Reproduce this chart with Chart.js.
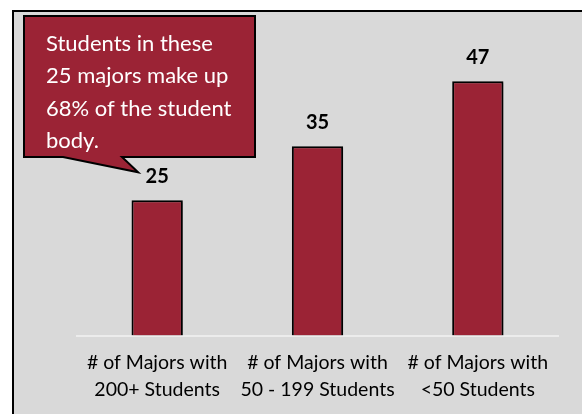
<!DOCTYPE html>
<html>
<head>
<meta charset="utf-8">
<script src="https://cdn.jsdelivr.net/npm/chart.js@4.4.1/dist/chart.umd.min.js"></script>
<style>
  html, body { margin: 0; padding: 0; background: #ffffff; overflow: hidden; }
  #frame {
    position: absolute; left: 12px; top: 10px;
    width: 568px; height: 402px;
    border-left: 2px solid #000; border-top: 2px solid #000;
    background: #d9d9d9;
  }
  #frame canvas { display: block; }
</style>
</head>
<body>
<div id="frame"><canvas id="majorsChart" width="568" height="402"></canvas></div>
<script>
// data
const categories = [
    ['# of Majors with', '200+ Students'],
    ['# of Majors with', '50 - 199 Students'],
    ['# of Majors with', '<50 Students']
];
const majorCounts = [25, 35, 47];
const calloutLines = ['Students in these', '25 majors make up', '68% of the student', 'body.'];

const BAR_RED = '#9b2335';
const FONT = 'Lato, "Open Sans", sans-serif';

// shadow behind the bars
const barShadow = {
    id: 'barShadow',
    beforeDatasetsDraw(chart) {
        const ctx = chart.ctx;
        ctx.save();
        ctx.shadowColor = 'rgba(0,0,0,0.35)';
        ctx.shadowOffsetX = 2;
        ctx.shadowOffsetY = 2;
        ctx.shadowBlur = 3;
    },
    afterDatasetsDraw(chart) {
        chart.ctx.restore();
    }
};

// numbers above each bar
const valueLabels = {
    id: 'valueLabels',
    afterDatasetsDraw(chart) {
        const ctx = chart.ctx;
        const meta = chart.getDatasetMeta(0);
        ctx.save();
        ctx.fillStyle = '#000';
        ctx.font = 'bold 20px ' + FONT;
        ctx.textAlign = 'center';
        ctx.textBaseline = 'middle';
        meta.data.forEach((bar, i) => {
            ctx.fillText(String(majorCounts[i]), bar.x, bar.y - 24);
        });
        ctx.restore();
    }
};

// speech-bubble callout pointing at the first bar label
const callout = {
    id: 'callout',
    afterDraw(chart) {
        const ctx = chart.ctx;
        const bar = chart.getDatasetMeta(0).data[0];
        const left = 10, top = 4, right = 241, bottom = 145;
        const tipX = bar.x - 19, tipY = bar.y - 28;
        ctx.save();
        ctx.beginPath();
        ctx.moveTo(left, top);
        ctx.lineTo(right, top);
        ctx.lineTo(right, bottom);
        ctx.lineTo(108, bottom);
        ctx.lineTo(tipX, tipY);
        ctx.lineTo(49, bottom);
        ctx.lineTo(left, bottom);
        ctx.closePath();
        ctx.fillStyle = BAR_RED;
        ctx.fill();
        ctx.lineWidth = 2;
        ctx.strokeStyle = '#000';
        ctx.lineJoin = 'miter';
        ctx.stroke();

        // text, clipped to the box like the original
        ctx.beginPath();
        ctx.rect(left + 1, top + 1, right - left - 2, bottom - top - 2);
        ctx.clip();
        ctx.fillStyle = '#fff';
        ctx.font = '22px ' + FONT;
        ctx.textAlign = 'left';
        ctx.textBaseline = 'middle';
        calloutLines.forEach((line, i) => {
            ctx.fillText(line, 32, 32 + i * 32.3);
        });
        ctx.restore();
    }
};

function initializeMajorsChart() {
    const el = document.getElementById('majorsChart');
    if (!el) return;
    new Chart(el.getContext('2d'), {
        type: 'bar',
        data: {
            labels: categories,
            datasets: [{
                data: majorCounts,
                backgroundColor: BAR_RED,
                borderColor: '#000',
                borderWidth: 2,
                borderSkipped: 'bottom',
                categoryPercentage: 1,
                barPercentage: 0.32
            }]
        },
        options: {
            responsive: false,
            animation: false,
            layout: { padding: { left: 63, right: 24, top: 53, bottom: 5 } },
            plugins: {
                legend: { display: false },
                tooltip: { enabled: false }
            },
            scales: {
                x: {
                    grid: { display: false },
                    border: { display: true, color: '#ececec', width: 2 },
                    ticks: {
                        color: '#000',
                        padding: 6,
                        maxRotation: 0,
                        font: { family: FONT, size: 19.5, lineHeight: 1.37 }
                    }
                },
                y: {
                    display: false,
                    min: 0,
                    max: 50
                }
            }
        },
        plugins: [barShadow, valueLabels, callout]
    });
}

document.addEventListener('DOMContentLoaded', () => {
    initializeMajorsChart();
});
</script>
</body>
</html>
